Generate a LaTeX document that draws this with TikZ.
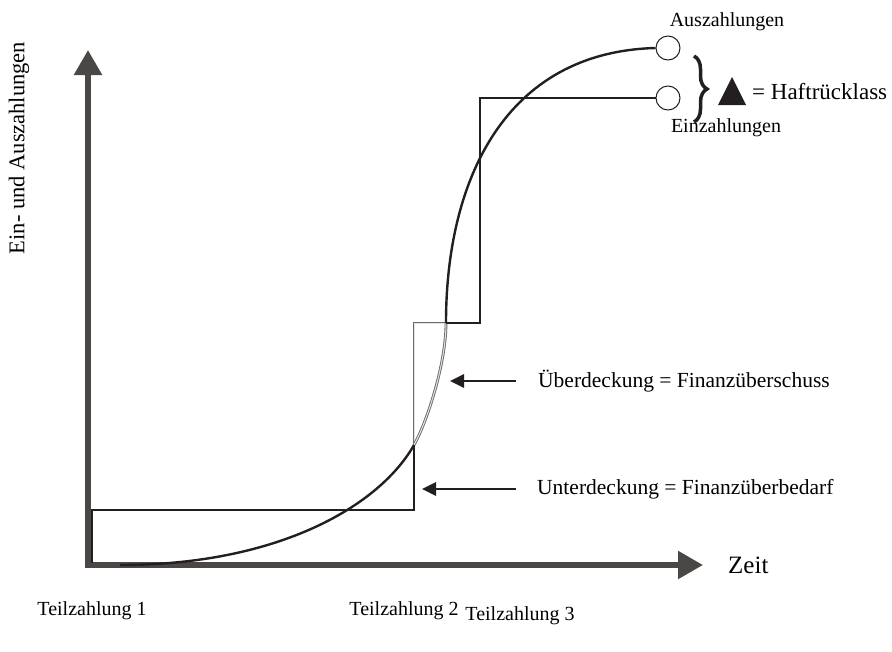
\documentclass[tikz,border=0pt]{standalone}
\usepackage{fontspec}
\setmainfont{Liberation Serif}
\usetikzlibrary{arrows.meta,decorations.pathreplacing}
\definecolor{axisgray}{HTML}{4B4745}
\definecolor{ink}{HTML}{231F20}
\definecolor{surplusedge}{HTML}{6E6A69}
\definecolor{surplusfill}{HTML}{E4E2E2}
\begin{document}
\begin{tikzpicture}[x=1pt,y=-1pt,
  axis/.style={draw=axisgray,line width=5.5pt,line join=miter,
    {Triangle[length=25pt,width=27pt]}-{Triangle[length=25pt,width=27pt]}},
  stair/.style={draw=ink,line width=2.6pt,line join=miter},
  flow/.style={draw=ink,line width=2.4pt},
  surplus/.style={draw=surplusedge,line width=2.8pt,line join=miter,
    postaction={draw=surplusfill,line width=1pt}},
  endmark/.style={circle,draw=ink,line width=1pt,fill=white,minimum size=24pt,inner sep=0pt},
  lbl/.style={font=\fontsize{20}{24}\selectfont,inner sep=0pt},
  note/.style={font=\fontsize{21.5}{26}\selectfont,inner sep=0pt,anchor=west},
  pointer/.style={draw=ink,line width=2.8pt,-{Triangle[length=14pt,width=13pt]}}]
\useasboundingbox (0,0) rectangle (892,651);

% axes
\coordinate (ytop) at (88,50);
\coordinate (orig) at (88,565);
\coordinate (xend) at (703,565);
\draw[axis] (ytop) -- (orig) -- (xend);
\node[lbl,font=\fontsize{25}{30}\selectfont,anchor=west] (zeit) at (728,565) {Zeit};
\node[lbl,font=\fontsize{22.5}{27}\selectfont,rotate=90] (ylab) at (19,148) {Ein- und Auszahlungen};

% end markers
\node[endmark] (ausz) at (668,48) {};
\node[endmark] (einz) at (668,98) {};
\node[lbl] (auszlab) at (727,22) {Auszahlungen};
\node[lbl] (einzlab) at (726,128) {Einzahlungen};

% step line of the payments received
\coordinate (s0) at (92,563);
\coordinate (s1) at (92,510);
\coordinate (s2) at (414,510);
\coordinate (j1) at (414,445);
\coordinate (s3) at (414,323);
\coordinate (j2) at (446,323);
\coordinate (s4) at (480,323);
\coordinate (s5) at (480,98);

% surplus area (outlined band between step and curve)
\draw[surplus] (j1) -- (s3) -- (j2);
\draw[surplus] (j1) .. controls (426,424) and (446,365) .. (j2);

\draw[stair] (s0) -- (s1) -- (s2) -- (j1);
\draw[stair] (j2) -- (s4) -- (s5) -- (einz.west);

% curve of the payments made
\coordinate (c0) at (120,565);
\draw[flow] (c0) .. controls (280,565) and (380,505) .. (j1);
\draw[flow] (j2) .. controls (446,180) and (505,52) .. (ausz.west);

% brace and legend
\draw[decorate,decoration={brace,amplitude=13pt},draw=ink,line width=3.5pt]
  (694,56) -- (694,122);
\fill[ink] (718,105) -- (732,77) -- (746,105) -- cycle;
\node[lbl,font=\fontsize{23}{28}\selectfont,anchor=west] (haft) at (752,92) {= Haftrücklass};

% annotations
\node[note] (ueber) at (538,381) {Überdeckung = Finanzüberschuss};
\node[note] (unter) at (537,489) {Unterdeckung = Finanzüberbedarf};
\coordinate (tipA) at (450,381);
\coordinate (tipB) at (422,489);
\draw[pointer,shorten <=22pt] (ueber.west) -- (tipA);
\draw[pointer,shorten <=21pt] (unter.west) -- (tipB);

% time labels
\node[lbl] (t1) at (92,611) {Teilzahlung 1};
\node[lbl] (t2) at (404,611) {Teilzahlung 2};
\node[lbl] (t3) at (520,616) {Teilzahlung 3};
\end{tikzpicture}
\end{document}
